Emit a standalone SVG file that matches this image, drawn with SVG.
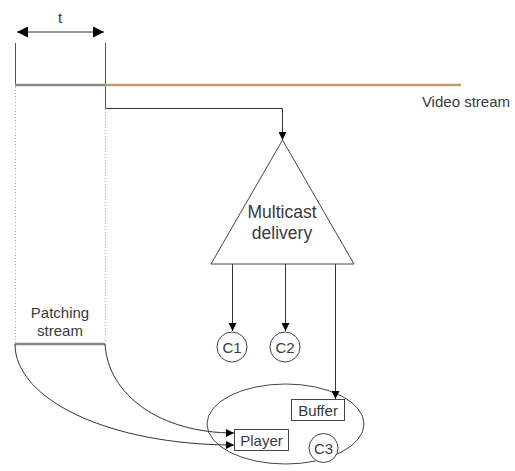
<svg xmlns="http://www.w3.org/2000/svg" width="515" height="471" viewBox="0 0 515 471">
  <defs>
    <marker id="arrow" viewBox="0 0 10 10" refX="10" refY="5" markerWidth="8" markerHeight="8" markerUnits="userSpaceOnUse" orient="auto-start-reverse">
      <path d="M0,0 L10,5 L0,10 z" fill="#000"/>
    </marker>
    <marker id="arrowBig" viewBox="0 0 10 10" refX="10" refY="5" markerWidth="11" markerHeight="11" markerUnits="userSpaceOnUse" orient="auto-start-reverse">
      <path d="M0,0 L10,5 L0,10 z" fill="#000"/>
    </marker>
  </defs>
  <style>
    text { font-family: "Liberation Sans", Arial, sans-serif; fill: #3a3a3a; }
    .lbl { font-size: 15px; }
    .big { font-size: 17.5px; }
    .edge { fill: none; stroke: #333; stroke-width: 1; }
    .thin { fill: none; stroke: #555; stroke-width: 1; }
    .shape { fill: #fff; stroke: #444; stroke-width: 1; }
    .dotted { fill: none; stroke: #aaa; stroke-width: 1; stroke-dasharray: 1 2; }
    .stream { fill: none; stroke: #888; stroke-width: 2.5; }
  </style>
  <rect width="515" height="471" fill="#fff"/>

  <!-- interval t -->
  <g id="interval">
    <line class="edge" x1="17" y1="32" x2="104" y2="32" stroke-width="1.5" marker-start="url(#arrowBig)" marker-end="url(#arrowBig)"/>
    <text class="lbl" x="60" y="23" text-anchor="middle">t</text>
    <line class="thin" x1="15.5" y1="43" x2="15.5" y2="85"/>
    <line class="thin" x1="105.5" y1="43" x2="105.5" y2="108"/>
  </g>

  <!-- video stream -->
  <g id="video-stream">
    <line class="stream" x1="15" y1="85" x2="105" y2="85"/>
    <line x1="105" y1="85" x2="461" y2="85" stroke="#c09c6c" stroke-width="2.5"/>
    <text class="lbl" x="510" y="107" text-anchor="end">Video stream</text>
  </g>

  <!-- patching stream -->
  <g id="patching-stream">
    <line class="dotted" x1="15.5" y1="87" x2="15.5" y2="343"/>
    <line class="dotted" x1="105.5" y1="109" x2="105.5" y2="343"/>
    <text class="lbl" x="60" y="318" text-anchor="middle">Patching</text>
    <text class="lbl" x="60" y="336" text-anchor="middle">stream</text>
    <line class="stream" x1="15" y1="344" x2="105" y2="344"/>
  </g>

  <!-- multicast delivery -->
  <g id="multicast">
    <polygon class="shape" points="282.5,140 211,264 354,264"/>
    <text class="big" x="282" y="218" text-anchor="middle">Multicast</text>
    <text class="big" x="282" y="239" text-anchor="middle">delivery</text>
  </g>

  <g id="c1">
    <circle class="shape" cx="232" cy="347" r="15"/>
    <text class="lbl" x="232" y="353" text-anchor="middle">C1</text>
  </g>
  <g id="c2">
    <circle class="shape" cx="285" cy="347" r="15"/>
    <text class="lbl" x="285" y="353" text-anchor="middle">C2</text>
  </g>

  <!-- client C3 -->
  <g id="c3-client">
    <ellipse class="shape" cx="285.5" cy="424" rx="78.5" ry="40" fill="none"/>
  </g>
  <g id="buffer">
    <rect class="shape" x="291.5" y="399.5" width="53" height="21"/>
    <text class="lbl" x="318" y="415.5" text-anchor="middle">Buffer</text>
  </g>
  <g id="player">
    <rect class="shape" x="234.5" y="429.5" width="54" height="21"/>
    <text class="lbl" x="261.5" y="445.5" text-anchor="middle">Player</text>
  </g>
  <g id="c3">
    <circle class="shape" cx="323.5" cy="448" r="14.5"/>
    <text class="lbl" x="323.5" y="453.5" text-anchor="middle">C3</text>
  </g>

  <!-- connectors -->
  <g id="connectors">
    <polyline class="edge" points="105.5,108.5 282.5,108.5 282.5,140" marker-end="url(#arrow)"/>
    <line class="edge" x1="232.5" y1="264" x2="232.5" y2="331" marker-end="url(#arrow)"/>
    <line class="edge" x1="285.5" y1="264" x2="285.5" y2="331" marker-end="url(#arrow)"/>
    <line class="edge" x1="335.5" y1="264" x2="335.5" y2="399" marker-end="url(#arrow)"/>
    <path class="edge" d="M105,344 C108,395 160,433 234,433" marker-end="url(#arrow)"/>
    <path class="edge" d="M15,344 C15,400 110,445 234,445" marker-end="url(#arrow)"/>
  </g>
</svg>
